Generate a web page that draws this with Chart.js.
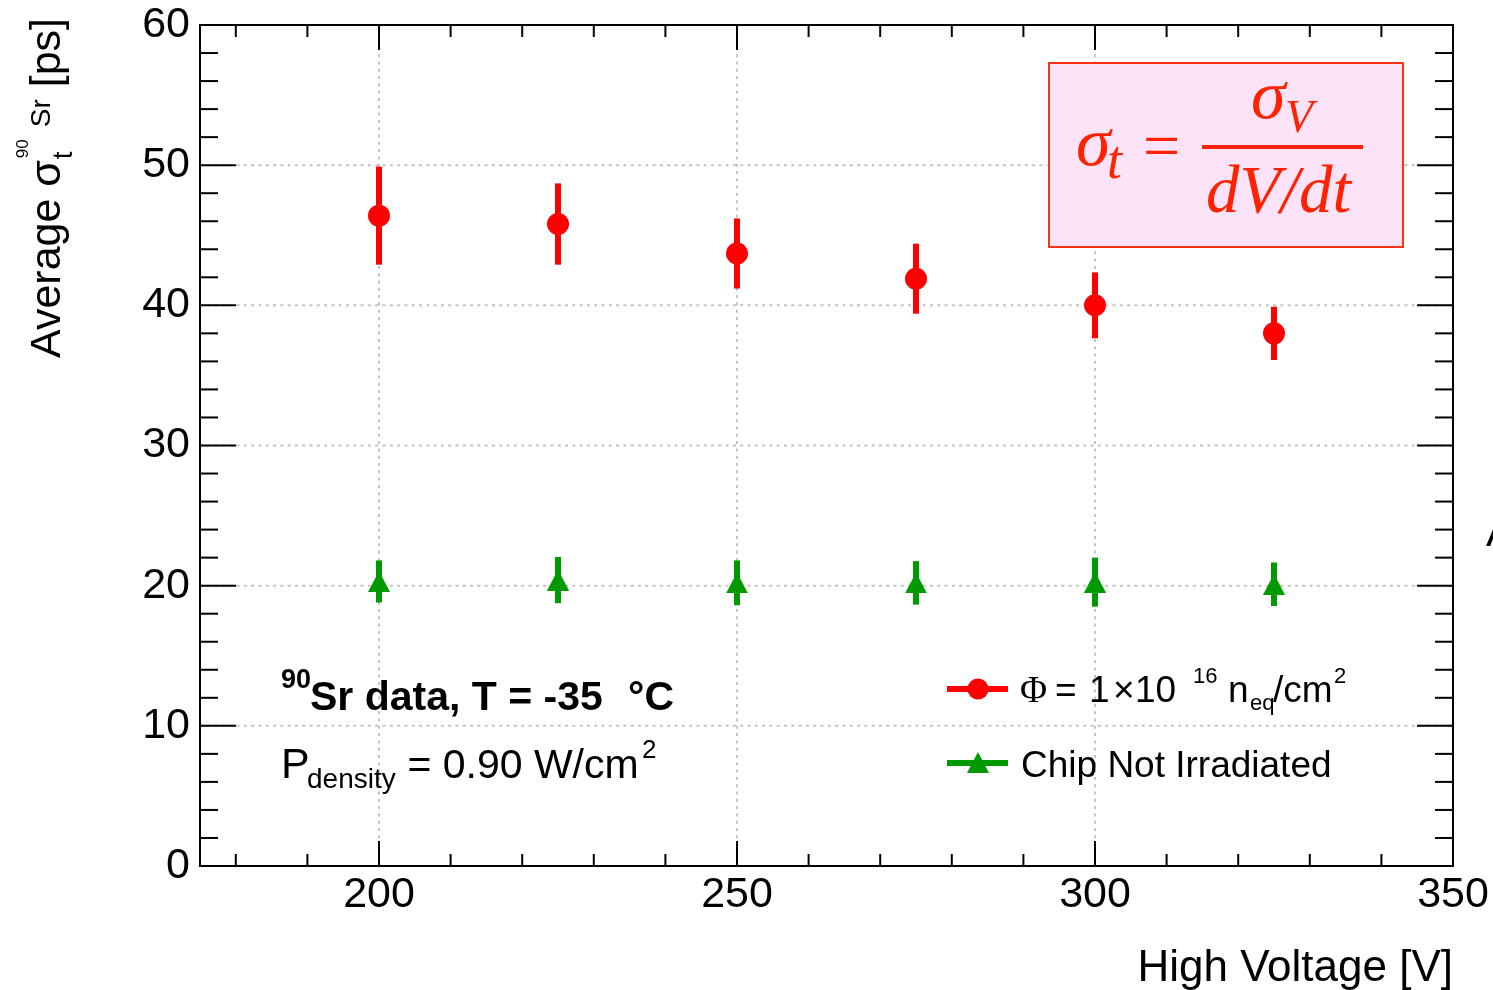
<!DOCTYPE html>
<html>
<head>
<meta charset="utf-8">
<script src="https://cdn.jsdelivr.net/npm/chart.js@4.4.0/dist/chart.umd.min.js"></script>
<style>
  html, body { margin: 0; padding: 0; background: #fff; }
  #wrap { width: 1493px; height: 990px; }
</style>
</head>
<body>
<div id="wrap"><canvas id="chart" width="1493" height="990"></canvas></div>
<script>
// data
const voltages = [200, 225, 250, 275, 300, 325];
const irradMean = [46.4, 45.8, 43.7, 41.9, 40.0, 38.0];
const irradErr = [3.5, 2.9, 2.5, 2.5, 2.35, 1.9];
const refMean = [20.3, 20.4, 20.2, 20.2, 20.25, 20.1];
const refErr = [1.5, 1.65, 1.6, 1.55, 1.75, 1.55];

const xTickValues = [200, 250, 300, 350];
const yTickValues = [0, 10, 20, 30, 40, 50, 60];
const xGridValues = [200, 250, 300];
const yGridValues = [10, 20, 30, 40, 50];

const SANS = '"Liberation Sans", Arial, Helvetica, sans-serif';
const SERIF = '"Liberation Serif", "Times New Roman", serif';
const RED = '#ff0000';
const GREEN = '#009a00';

// ROOT style triangle marker, centred on its bounding box
function makeTriangle(w, h, color) {
  const c = document.createElement('canvas');
  c.width = w; c.height = h;
  const g = c.getContext('2d');
  g.fillStyle = color;
  g.beginPath();
  g.moveTo(w / 2, 0);
  g.lineTo(w, h);
  g.lineTo(0, h);
  g.closePath();
  g.fill();
  return c;
}
const triMarker = makeTriangle(22, 21, GREEN);

function line(ctx, x1, y1, x2, y2) {
  ctx.beginPath();
  ctx.moveTo(x1, y1);
  ctx.lineTo(x2, y2);
  ctx.stroke();
}

function runs(ctx, list, color) {
  ctx.save();
  ctx.fillStyle = color || '#000';
  ctx.textAlign = 'left';
  ctx.textBaseline = 'alphabetic';
  list.forEach(r => { ctx.font = r.font; ctx.fillText(r.t, r.x, r.y); });
  ctx.restore();
}

const errors = [irradErr, refErr];

const rootPlugin = {
  id: 'rootStyle',
  beforeDatasetsDraw(chart) {
    const ctx = chart.ctx;
    const { left, right, top, bottom } = chart.chartArea;
    const xs = chart.scales.x, ys = chart.scales.y;
    ctx.save();
    // dotted grid
    ctx.strokeStyle = '#c4c4c4';
    ctx.lineWidth = 2;
    ctx.setLineDash([3, 4.3]);
    xGridValues.forEach(v => { const p = xs.getPixelForValue(v); line(ctx, p, top, p, bottom); });
    yGridValues.forEach(v => { const p = ys.getPixelForValue(v); line(ctx, left, p, right, p); });
    ctx.setLineDash([]);
    // error bars
    chart.data.datasets.forEach((ds, i) => {
      ctx.strokeStyle = ds.backgroundColor;
      ctx.lineWidth = 6;
      ds.data.forEach((pt, j) => {
        const px = xs.getPixelForValue(pt.x);
        const e = errors[i][j];
        line(ctx, px, ys.getPixelForValue(pt.y - e), px, ys.getPixelForValue(pt.y + e));
      });
    });
    ctx.restore();
  },
  afterDatasetsDraw(chart) {
    const ctx = chart.ctx;
    const { left, right, top, bottom } = chart.chartArea;
    const xs = chart.scales.x, ys = chart.scales.y;
    ctx.save();

    // formula box
    ctx.fillStyle = '#fde3f8';
    ctx.fillRect(1049, 63, 354, 184);
    ctx.strokeStyle = '#ff3311';
    ctx.lineWidth = 2;
    ctx.strokeRect(1049, 63, 354, 184);
    const FC = '#ff2200';
    runs(ctx, [
      { t: 'σ', font: `italic 70px ${SERIF}`, x: 1076, y: 165 },
      { t: 't', font: `italic 54px ${SERIF}`, x: 1107, y: 178 },
      { t: '=', font: `66px ${SERIF}`, x: 1143, y: 168 },
      { t: 'σ', font: `italic 70px ${SERIF}`, x: 1251, y: 118 },
      { t: 'V', font: `italic 46px ${SERIF}`, x: 1285, y: 132 },
      { t: 'dV/dt', font: `italic 67px ${SERIF}`, x: 1206, y: 212 }
    ], FC);
    ctx.fillStyle = FC;
    ctx.fillRect(1202, 145, 161, 4);

    // frame and inward ticks
    ctx.strokeStyle = '#000';
    ctx.lineWidth = 2;
    ctx.strokeRect(left, top, right - left, bottom - top);
    for (let v = 180; v <= 350; v += 10) {
      const p = xs.getPixelForValue(v);
      const len = xTickValues.includes(v) ? 25 : 12;
      line(ctx, p, bottom, p, bottom - len);
      line(ctx, p, top, p, top + len);
    }
    for (let v = 0; v <= 60; v += 2) {
      const p = ys.getPixelForValue(v);
      const len = yTickValues.includes(v) ? 36 : 18;
      line(ctx, left, p, left + len, p);
      line(ctx, right, p, right - len, p);
    }

    // legend
    ctx.lineWidth = 6;
    ctx.strokeStyle = RED;
    line(ctx, 947, 689, 1008, 689);
    ctx.fillStyle = RED;
    ctx.beginPath();
    ctx.arc(978, 689, 10.5, 0, Math.PI * 2);
    ctx.fill();
    ctx.strokeStyle = GREEN;
    line(ctx, 947, 763, 1008, 763);
    ctx.drawImage(triMarker, 978 - 11, 763 - 11);

    runs(ctx, [
      { t: 'Φ', font: `37px ${SERIF}`, x: 1020, y: 702 },
      { t: '=', font: `37px ${SANS}`, x: 1055, y: 702 },
      { t: '1', font: `37px ${SANS}`, x: 1089, y: 702 },
      { t: '×', font: `37px ${SANS}`, x: 1113, y: 702 },
      { t: '10', font: `37px ${SANS}`, x: 1135, y: 702 },
      { t: '16', font: `22px ${SANS}`, x: 1193, y: 683 },
      { t: 'n', font: `37px ${SANS}`, x: 1228, y: 702 },
      { t: 'eq', font: `22px ${SANS}`, x: 1250, y: 710 },
      { t: '/cm', font: `37px ${SANS}`, x: 1273, y: 702 },
      { t: '2', font: `22px ${SANS}`, x: 1334, y: 683 },
      { t: 'Chip Not Irradiated', font: `37px ${SANS}`, x: 1021, y: 777 }
    ]);

    // labels
    runs(ctx, [
      { t: '90', font: `bold 27px ${SANS}`, x: 281, y: 688 },
      { t: 'Sr data, T = -35', font: `bold 41px ${SANS}`, x: 310, y: 710 },
      { t: '°C', font: `bold 41px ${SANS}`, x: 628, y: 710 },
      { t: 'P', font: `43px ${SANS}`, x: 281, y: 778 },
      { t: 'density', font: `28px ${SANS}`, x: 307, y: 788 },
      { t: ' = 0.90 W/cm', font: `41px ${SANS}`, x: 396, y: 778 },
      { t: '2', font: `26px ${SANS}`, x: 642, y: 758 },
      { t: 'A', font: `43px ${SANS}`, x: 1486, y: 546 }
    ]);

    // x axis title, right aligned
    ctx.fillStyle = '#000';
    ctx.font = `44px ${SANS}`;
    ctx.textAlign = 'right';
    ctx.textBaseline = 'alphabetic';
    ctx.fillText('High Voltage [V]', right, 981);

    // y axis title, rotated, right aligned at top
    ctx.translate(60, 358);
    ctx.rotate(-Math.PI / 2);
    ctx.textAlign = 'left';
    let x = 0;
    ctx.font = `43px ${SANS}`;
    ctx.fillText('Average σ', x, 0);
    x += ctx.measureText('Average σ').width;
    ctx.font = `28px ${SANS}`;
    ctx.fillText('t', x + 1, 12);
    ctx.font = `17px ${SANS}`;
    ctx.fillText('90', x + 2, -32);
    const w90 = ctx.measureText('90').width;
    ctx.font = `28px ${SANS}`;
    ctx.fillText('Sr', x + 2 + w90 + 12, -10);
    x += w90 + 14 + ctx.measureText('Sr').width;
    ctx.font = `43px ${SANS}`;
    ctx.fillText(' [ps]', x, 0);

    ctx.restore();
  }
};

const chart = new Chart(document.getElementById('chart'), {
  type: 'scatter',
  data: {
    datasets: [
      {
        label: 'Φ = 1×10^16 neq/cm2',
        data: voltages.map((v, i) => ({ x: v, y: irradMean[i] })),
        backgroundColor: RED,
        borderColor: RED,
        pointStyle: 'circle',
        pointRadius: 11,
        pointBorderWidth: 0
      },
      {
        label: 'Chip Not Irradiated',
        data: voltages.map((v, i) => ({ x: v, y: refMean[i] })),
        backgroundColor: GREEN,
        borderColor: GREEN,
        pointStyle: triMarker,
        pointRadius: 11
      }
    ]
  },
  options: {
    responsive: false,
    animation: false,
    events: [],
    layout: { padding: { left: 0, right: 40, top: 25, bottom: 0 } },
    plugins: { legend: { display: false }, tooltip: { enabled: false } },
    scales: {
      x: {
        type: 'linear',
        min: 175,
        max: 350,
        grid: { display: false, drawTicks: false },
        border: { display: false },
        afterBuildTicks: s => { s.ticks = xTickValues.map(v => ({ value: v })); },
        afterFit: s => { s.height = 124; s.paddingLeft = 0; s.paddingRight = 0; },
        ticks: { color: '#000', font: { family: SANS, size: 43 }, padding: 3, maxRotation: 0, autoSkip: false }
      },
      y: {
        type: 'linear',
        min: 0,
        max: 60,
        grid: { display: false, drawTicks: false },
        border: { display: false },
        afterBuildTicks: s => { s.ticks = yTickValues.map(v => ({ value: v })); },
        afterFit: s => { s.width = 200; s.paddingTop = 0; s.paddingBottom = 0; },
        ticks: { color: '#000', font: { family: SANS, size: 43 }, padding: 10 }
      }
    }
  },
  plugins: [rootPlugin]
});
</script>
</body>
</html>
